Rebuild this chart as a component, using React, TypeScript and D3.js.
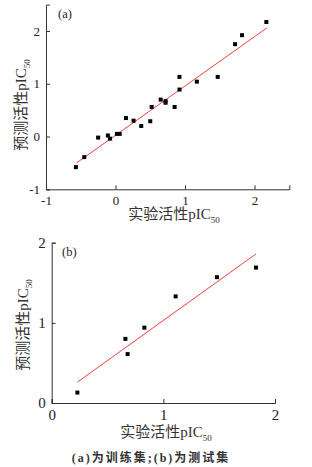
import React, { useEffect, useRef } from 'react';
import * as d3 from 'd3';

// training set (a)
const trainExp = [2.17, 1.82, 1.72, 1.47, 1.17, 0.92, 0.92, 0.65, 0.72, 0.72, 0.85, 0.52, 0.15, 0.26, 0.5, 0.37, 0.02, 0.06, -0.11, -0.08, -0.25, -0.45, -0.57];
const trainPred = [2.17, 1.92, 1.75, 1.13, 1.04, 1.13, 0.89, 0.7, 0.67, 0.64, 0.56, 0.56, 0.35, 0.3, 0.29, 0.2, 0.05, 0.05, 0.02, -0.04, -0.02, -0.39, -0.58];
const trainFitX = [-0.56, 2.18];
const trainFitY = [-0.5, 2.06];
const trainTicks = [-1, 0, 1, 2];

// test set (b)
const testExp = [0.23, 0.66, 0.68, 0.83, 1.11, 1.48, 1.83];
const testPred = [0.13, 0.8, 0.61, 0.94, 1.33, 1.57, 1.69];
const testFitX = [0.23, 1.83];
const testFitY = [0.26, 1.86];
const testTicks = [0, 1, 2];

const xTitle = '实验活性pIC';
const yTitle = '预测活性pIC';
const caption = '(a)为训练集;(b)为测试集';

const SERIF = '"Liberation Serif", "Noto Sans CJK SC", serif';
const AXIS = '#333';

interface PanelOpts {
  tag: string;
  xs: number[];
  ys: number[];
  fitX: number[];
  fitY: number[];
  ticks: number[];
  xDomain: [number, number];
  yDomain: [number, number];
  xRange: [number, number];
  yRange: [number, number];
  fontSize: number;
  tagPos: [number, number];
  xTitlePos: [number, number];
  yTitlePos: [number, number];
}

function drawPanel(svg: d3.Selection<SVGSVGElement, unknown, null, undefined>, o: PanelOpts) {
  const x = d3.scaleLinear().domain(o.xDomain).range(o.xRange);
  const y = d3.scaleLinear().domain(o.yDomain).range(o.yRange);
  const g = svg.append('g');
  const x0 = o.xRange[0];
  const y0 = o.yRange[0];

  const minor = (d: [number, number]) => d3.range(d[0], d[1] + 0.001, 0.25);
  const fmt = (d: d3.NumberValue) => String(d);

  // bottom axis: minor then major (ticks point inward)
  const bx = g.append('g').attr('transform', `translate(0,${y0})`);
  bx.call(d3.axisBottom(x).tickValues(minor(o.xDomain)).tickSize(-2.5).tickFormat(() => ''));
  bx.call(d3.axisBottom(x).tickValues(o.ticks).tickSize(-4).tickPadding(6).tickFormat(fmt));
  bx.selectAll('path,line').attr('stroke', AXIS);
  bx.selectAll('text').attr('font-family', SERIF).attr('font-size', o.fontSize).attr('fill', '#222');

  const ly = g.append('g').attr('transform', `translate(${x0},0)`);
  ly.call(d3.axisLeft(y).tickValues(minor(o.yDomain)).tickSize(-2.5).tickFormat(() => ''));
  ly.call(d3.axisLeft(y).tickValues(o.ticks).tickSize(-4).tickPadding(6).tickFormat(fmt));
  ly.selectAll('path,line').attr('stroke', AXIS);
  ly.selectAll('text').attr('font-family', SERIF).attr('font-size', o.fontSize).attr('fill', '#222');

  // fit line
  g.append('line')
    .attr('x1', x(o.fitX[0])).attr('y1', y(o.fitY[0]))
    .attr('x2', x(o.fitX[1])).attr('y2', y(o.fitY[1]))
    .attr('stroke', '#f04040').attr('stroke-width', 1);

  // points
  g.selectAll('.pt')
    .data(o.xs.map((v, i) => [v, o.ys[i]]))
    .enter()
    .append('rect')
    .attr('x', d => x(d[0]) - 2)
    .attr('y', d => y(d[1]) - 2)
    .attr('width', 4)
    .attr('height', 4)
    .attr('fill', '#000');

  g.append('text')
    .attr('x', o.tagPos[0]).attr('y', o.tagPos[1])
    .attr('font-family', SERIF).attr('font-size', 12.5).attr('fill', '#222')
    .text(o.tag);

  const xt = g.append('text')
    .attr('x', o.xTitlePos[0]).attr('y', o.xTitlePos[1])
    .attr('text-anchor', 'middle')
    .attr('font-family', SERIF).attr('font-size', 15).attr('fill', '#333');
  xt.append('tspan').text(xTitle);
  xt.append('tspan').attr('dy', 4).attr('font-size', 9).text('50');

  const yt = g.append('text')
    .attr('transform', `translate(${o.yTitlePos[0]},${o.yTitlePos[1]}) rotate(-90)`)
    .attr('text-anchor', 'middle')
    .attr('font-family', SERIF).attr('font-size', 15).attr('fill', '#333');
  yt.append('tspan').text(yTitle);
  yt.append('tspan').attr('dy', 4).attr('font-size', 9).text('50');
}

export default function App() {
  const svgRef = useRef<SVGSVGElement>(null);

  useEffect(() => {
    if (!svgRef.current) return;
    const svg = d3.select(svgRef.current);
    svg.selectAll('*').remove();

    drawPanel(svg, {
      tag: '(a)',
      xs: trainExp, ys: trainPred, fitX: trainFitX, fitY: trainFitY, ticks: trainTicks,
      xDomain: [-1, 2.5], yDomain: [-1, 2.5],
      xRange: [46, 289.3], yRange: [189.3, 4.6],
      fontSize: 13,
      tagPos: [58, 18],
      xTitlePos: [174, 219],
      yTitlePos: [26, 105],
    });

    drawPanel(svg, {
      tag: '(b)',
      xs: testExp, ys: testPred, fitX: testFitX, fitY: testFitY, ticks: testTicks,
      xDomain: [0, 2], yDomain: [0, 2],
      xRange: [51.7, 275], yRange: [403, 242.7],
      fontSize: 15,
      tagPos: [62, 256],
      xTitlePos: [166, 437],
      yTitlePos: [28, 325],
    });

    svg.append('text')
      .attr('x', 151).attr('y', 462)
      .attr('text-anchor', 'middle')
      .attr('font-family', SERIF).attr('font-size', 12).attr('font-weight', 'bold')
      .attr('letter-spacing', 2).attr('fill', '#333')
      .text(caption);
  }, []);

  return (
    <div style={{ position: 'absolute', left: 0, top: 0, background: '#fff' }}>
      <svg ref={svgRef} width={312} height={467} style={{ display: 'block' }} />
    </div>
  );
}
